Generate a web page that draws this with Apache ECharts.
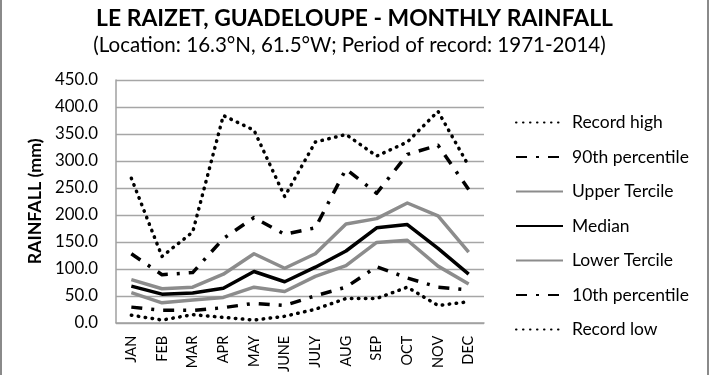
<!DOCTYPE html>
<html>
<head>
<meta charset="utf-8">
<script src="https://cdn.jsdelivr.net/npm/echarts@6/dist/echarts.min.js"></script>
<style>html,body{margin:0;padding:0;background:#fff}#c{width:710px;height:375px}</style>
</head>
<body>
<div id="c"></div>
<script>
const months = ['JAN','FEB','MAR','APR','MAY','JUNE','JULY','AUG','SEP','OCT','NOV','DEC'];
const yTicks = [0,50,100,150,200,250,300,350,400,450];
const recordHigh   = [268,123,168,384,357,234,335,349,309,335,392,291];
const p90          = [128, 89, 93,156,195,164,176,285,240,312,329,247];
const upperTercile = [ 80, 63, 66, 90,128,101,128,183,193,222,198,131];
const median       = [ 68, 53, 55, 64, 95, 76,103,133,176,182,138, 90];
const lowerTercile = [ 56, 37, 42, 47, 66, 58, 86,106,149,153,105, 72];
const p10          = [ 29, 23, 23, 28, 36, 32, 50, 66,104, 83, 66, 61];
const recordLow    = [ 14,  5, 15, 10,  5, 12, 25, 45, 45, 66, 32, 39];
const seriesNames = ['Record high','90th percentile','Upper Tercile','Median','Lower Tercile','10th percentile','Record low'];
const seriesData = [recordHigh,p90,upperTercile,median,lowerTercile,p10,recordLow];

const FONT = 'Lato, "Open Sans", sans-serif';
const ctx = document.createElement('canvas').getContext('2d');
function fit(text, weight, target) {
  ctx.font = weight + ' 100px ' + FONT;
  return 100 * target / ctx.measureText(text).width;
}
const titleSize = fit('LE RAIZET, GUADELOUPE - MONTHLY RAINFALL', 'bold', 517);
const subSize = fit('(Location: 16.3°N, 61.5°W; Period of record: 1971-2014)', 'normal', 513);
const ynameSize = fit('RAINFALL (mm)', 'bold', 126);
const tickSize = fit('450.0', 'normal', 43);
const legSize = fit('90th percentile', 'normal', 117);

const GRAY = '#8c8c8c';
const styles = [
  {color:'#000', type:[0.5,6.5], cap:'round', width:3.5},
  {color:'#000', type:[11,9,3,9], cap:'butt', width:3.5},
  {color:GRAY, type:'solid', cap:'butt', width:3.5},
  {color:'#000', type:'solid', cap:'butt', width:3.5},
  {color:GRAY, type:'solid', cap:'butt', width:3.5},
  {color:'#000', type:[11,9,3,9], cap:'butt', width:3.5},
  {color:'#000', type:[0.5,6.5], cap:'round', width:3.5}
];

const chart = echarts.init(document.getElementById('c'), null, {renderer:'canvas'});
chart.setOption({
  animation: false,
  backgroundColor: '#fff',
  textStyle: {fontFamily: FONT},
  graphic: [
    {type:'text', x:354.5, y:19, style:{text:'LE RAIZET, GUADELOUPE - MONTHLY RAINFALL', font:'bold '+titleSize+'px '+FONT, fill:'#000', textAlign:'center', textVerticalAlign:'middle'}},
    {type:'text', x:349.5, y:45, style:{text:'(Location: 16.3°N, 61.5°W; Period of record: 1971-2014)', font:subSize+'px '+FONT, fill:'#000', textAlign:'center', textVerticalAlign:'middle'}},
    {type:'rect', shape:{x:0, y:0, width:2, height:375}, style:{fill:'#8a8a8a'}},
    {type:'rect', shape:{x:707, y:0, width:2, height:375}, style:{fill:'#8a8a8a'}}
  ],
  grid: {left:116, right:226, top:80, bottom:45, containLabel:false},
  legend: {
    orient:'vertical', left:515, top:114, padding:0,
    itemWidth:47, itemHeight:14, itemGap:17.5,
    itemStyle:{opacity:0, borderWidth:0},
    textStyle:{fontSize:legSize, lineHeight:14, color:'#000', fontFamily:FONT, padding:[0,0,0,4]},
    data: seriesNames
  },
  xAxis: {
    type:'category', data:months, boundaryGap:true,
    axisLine:{show:true, lineStyle:{color:'#a0a0a0', width:1.5}},
    axisTick:{show:false},
    axisLabel:{rotate:90, fontSize:14.5, color:'#000', margin:13, interval:0, fontFamily:FONT}
  },
  yAxis: {
    type:'value', min:yTicks[0], max:yTicks[yTicks.length-1], interval:50,
    name:'RAINFALL (mm)', nameLocation:'middle', nameRotate:90, nameGap:70,
    nameTextStyle:{fontSize:ynameSize, fontWeight:'bold', color:'#000', fontFamily:FONT},
    axisLine:{show:true, lineStyle:{color:'#a0a0a0', width:1.5}},
    axisTick:{show:false},
    splitLine:{show:true, lineStyle:{color:'#a6a6a6', width:1.3}},
    axisLabel:{formatter:v=>v.toFixed(1), fontSize:tickSize, color:'#000', margin:18, fontFamily:FONT}
  },
  series: seriesNames.map((n,i)=>({
    name:n, type:'line', data:seriesData[i], symbol:'none', smooth:false,
    itemStyle:{color:styles[i].color},
    lineStyle:{color:styles[i].color, type:styles[i].type, cap:styles[i].cap, width:styles[i].width, join:'round'},
    z: 10-i
  }))
});
</script>
</body>
</html>
